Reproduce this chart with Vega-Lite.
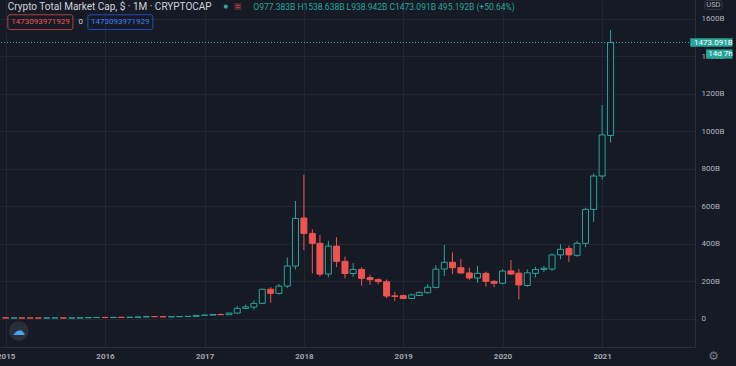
{
  "$schema": "https://vega.github.io/schema/vega-lite/v6.json",
  "width": 695,
  "height": 347,
  "autosize": {"type": "none"},
  "padding": {"left": 0, "top": 0, "right": 41, "bottom": 19},
  "background": "#161a25",
  "config": {
    "view": {"stroke": null},
    "font": "Roboto",
    "axis": {"gridColor": "#222633", "gridWidth": 1, "domainColor": "#2a2e39", "labelColor": "#b2b5be", "labelFont": "Roboto", "labelFontSize": 8, "ticks": false, "tickSize": 0, "title": null}
  },
  "data": {"values": [
    {"date": "2015-01-01", "open": 5.5, "high": 5.7, "low": 3.0, "close": 3.6},
    {"date": "2015-02-01", "open": 3.6, "high": 4.2, "low": 3.1, "close": 4.0},
    {"date": "2015-03-01", "open": 4.0, "high": 4.6, "low": 3.6, "close": 3.9},
    {"date": "2015-04-01", "open": 3.9, "high": 4.1, "low": 3.5, "close": 3.7},
    {"date": "2015-05-01", "open": 3.7, "high": 3.9, "low": 3.5, "close": 3.6},
    {"date": "2015-06-01", "open": 3.6, "high": 4.1, "low": 3.5, "close": 4.1},
    {"date": "2015-07-01", "open": 4.1, "high": 4.8, "low": 4.0, "close": 4.4},
    {"date": "2015-08-01", "open": 4.4, "high": 4.5, "low": 3.2, "close": 3.6},
    {"date": "2015-09-01", "open": 3.6, "high": 3.8, "low": 3.5, "close": 3.7},
    {"date": "2015-10-01", "open": 3.7, "high": 5.0, "low": 3.6, "close": 4.9},
    {"date": "2015-11-01", "open": 4.9, "high": 7.2, "low": 4.6, "close": 6.1},
    {"date": "2015-12-01", "open": 6.1, "high": 7.3, "low": 5.8, "close": 7.0},
    {"date": "2016-01-01", "open": 7.0, "high": 7.5, "low": 5.6, "close": 6.2},
    {"date": "2016-02-01", "open": 6.2, "high": 7.4, "low": 6.0, "close": 7.3},
    {"date": "2016-03-01", "open": 7.3, "high": 7.6, "low": 6.9, "close": 7.1},
    {"date": "2016-04-01", "open": 7.1, "high": 7.7, "low": 7.0, "close": 7.6},
    {"date": "2016-05-01", "open": 7.6, "high": 9.5, "low": 7.4, "close": 9.3},
    {"date": "2016-06-01", "open": 9.3, "high": 13.0, "low": 9.1, "close": 11.4},
    {"date": "2016-07-01", "open": 11.4, "high": 12.2, "low": 10.3, "close": 10.9},
    {"date": "2016-08-01", "open": 10.9, "high": 11.2, "low": 9.2, "close": 10.0},
    {"date": "2016-09-01", "open": 10.0, "high": 10.6, "low": 9.8, "close": 10.5},
    {"date": "2016-10-01", "open": 10.5, "high": 12.2, "low": 10.3, "close": 12.0},
    {"date": "2016-11-01", "open": 12.0, "high": 12.9, "low": 11.4, "close": 12.5},
    {"date": "2016-12-01", "open": 12.5, "high": 17.8, "low": 12.4, "close": 17.7},
    {"date": "2017-01-01", "open": 17.7, "high": 22, "low": 16, "close": 19.2},
    {"date": "2017-02-01", "open": 19.2, "high": 23, "low": 18.5, "close": 22.5},
    {"date": "2017-03-01", "open": 22.5, "high": 28, "low": 20, "close": 21.5},
    {"date": "2017-04-01", "open": 21.5, "high": 31, "low": 21, "close": 30},
    {"date": "2017-05-01", "open": 30, "high": 69, "low": 28, "close": 55},
    {"date": "2017-06-01", "open": 55, "high": 76, "low": 50, "close": 63},
    {"date": "2017-07-01", "open": 62, "high": 97, "low": 48, "close": 82},
    {"date": "2017-08-01", "open": 82, "high": 160, "low": 80, "close": 157},
    {"date": "2017-09-01", "open": 157, "high": 168, "low": 85, "close": 135},
    {"date": "2017-10-01", "open": 135, "high": 185, "low": 128, "close": 174},
    {"date": "2017-11-01", "open": 174, "high": 327, "low": 163, "close": 281},
    {"date": "2017-12-01", "open": 281, "high": 628, "low": 263, "close": 535},
    {"date": "2018-01-01", "open": 537, "high": 768, "low": 366, "close": 455},
    {"date": "2018-02-01", "open": 455, "high": 477, "low": 242, "close": 402},
    {"date": "2018-03-01", "open": 402, "high": 446, "low": 224, "close": 238},
    {"date": "2018-04-01", "open": 238, "high": 415, "low": 221, "close": 387},
    {"date": "2018-05-01", "open": 387, "high": 435, "low": 275, "close": 306},
    {"date": "2018-06-01", "open": 306, "high": 331, "low": 215, "close": 241},
    {"date": "2018-07-01", "open": 241, "high": 297, "low": 224, "close": 263},
    {"date": "2018-08-01", "open": 263, "high": 274, "low": 176, "close": 215},
    {"date": "2018-09-01", "open": 219, "high": 235, "low": 180, "close": 208},
    {"date": "2018-10-01", "open": 208, "high": 216, "low": 184, "close": 198},
    {"date": "2018-11-01", "open": 197, "high": 209, "low": 109, "close": 121},
    {"date": "2018-12-01", "open": 122, "high": 143, "low": 95, "close": 119},
    {"date": "2019-01-01", "open": 123, "high": 129, "low": 104, "close": 108},
    {"date": "2019-02-01", "open": 108, "high": 134, "low": 105, "close": 127},
    {"date": "2019-03-01", "open": 124, "high": 145, "low": 120, "close": 140},
    {"date": "2019-04-01", "open": 139, "high": 183, "low": 133, "close": 168},
    {"date": "2019-05-01", "open": 167, "high": 286, "low": 162, "close": 264},
    {"date": "2019-06-01", "open": 265, "high": 393, "low": 228, "close": 301},
    {"date": "2019-07-01", "open": 301, "high": 354, "low": 238, "close": 272},
    {"date": "2019-08-01", "open": 272, "high": 318, "low": 238, "close": 244},
    {"date": "2019-09-01", "open": 244, "high": 272, "low": 206, "close": 217},
    {"date": "2019-10-01", "open": 217, "high": 282, "low": 192, "close": 242},
    {"date": "2019-11-01", "open": 242, "high": 251, "low": 171, "close": 199},
    {"date": "2019-12-01", "open": 199, "high": 207, "low": 168, "close": 189},
    {"date": "2020-01-01", "open": 189, "high": 263, "low": 183, "close": 254},
    {"date": "2020-02-01", "open": 255, "high": 313, "low": 235, "close": 238},
    {"date": "2020-03-01", "open": 243, "high": 265, "low": 103, "close": 180},
    {"date": "2020-04-01", "open": 177, "high": 263, "low": 170, "close": 245},
    {"date": "2020-05-01", "open": 242, "high": 277, "low": 220, "close": 263},
    {"date": "2020-06-01", "open": 263, "high": 282, "low": 250, "close": 269},
    {"date": "2020-07-01", "open": 265, "high": 348, "low": 256, "close": 340},
    {"date": "2020-08-01", "open": 340, "high": 397, "low": 317, "close": 370},
    {"date": "2020-09-01", "open": 374, "high": 390, "low": 303, "close": 340},
    {"date": "2020-10-01", "open": 338, "high": 415, "low": 330, "close": 402},
    {"date": "2020-11-01", "open": 402, "high": 592, "low": 381, "close": 583},
    {"date": "2020-12-01", "open": 583, "high": 775, "low": 517, "close": 761},
    {"date": "2021-01-01", "open": 761, "high": 1140, "low": 743, "close": 980},
    {"date": "2021-02-01", "open": 977.383, "high": 1538.638, "low": 938.942, "close": 1473.091}
  ]},
  "layer": [
    {
      "mark": {"type": "rule", "strokeWidth": 1},
      "encoding": {
        "x": {
          "field": "date", "type": "temporal",
          "scale": {"type": "utc", "domain": [{"year": 2014, "month": 12, "date": 29, "hours": 12, "utc": true}, {"year": 2021, "month": 11, "date": 20, "utc": true}]},
          "axis": {
            "orient": "bottom", "format": "%Y", "formatType": "utc", "labelFlush": false, "labelOverlap": false, "labelBound": false,
            "labelPadding": 9, "labelBaseline": "middle", "labelFontWeight": "bold", "labelColor": "#a3a6af",
            "values": [
              {"year": 2015, "month": 1, "date": 1, "utc": true},
              {"year": 2016, "month": 1, "date": 1, "utc": true},
              {"year": 2017, "month": 1, "date": 1, "utc": true},
              {"year": 2018, "month": 1, "date": 1, "utc": true},
              {"year": 2019, "month": 1, "date": 1, "utc": true},
              {"year": 2020, "month": 1, "date": 1, "utc": true},
              {"year": 2021, "month": 1, "date": 1, "utc": true}
            ]
          }
        },
        "y": {
          "field": "low", "type": "quantitative",
          "scale": {"domain": [-150.9, 1699.7], "nice": false, "zero": false},
          "axis": {
            "orient": "right", "values": [0, 200, 400, 600, 800, 1000, 1200, 1400, 1600],
            "labelExpr": "datum.value == 0 ? '0' : datum.value + 'B'", "labelPadding": 6, "labelOverlap": false
          }
        },
        "y2": {"field": "high"},
        "color": {"condition": {"test": "datum.close >= datum.open", "value": "#26a69a"}, "value": "#ef5350"}
      }
    },
    {
      "mark": {"type": "bar", "size": 6, "strokeWidth": 1},
      "encoding": {
        "x": {"field": "date", "type": "temporal"},
        "y": {"field": "open", "type": "quantitative"},
        "y2": {"field": "close"},
        "fill": {"condition": {"test": "datum.close >= datum.open", "value": "#161a25"}, "value": "#ef5350"},
        "stroke": {"condition": {"test": "datum.close >= datum.open", "value": "#26a69a"}, "value": "#ef5350"}
      }
    },
    {
      "data": {"values": [{}]},
      "mark": {"type": "rule", "strokeDash": [1, 2], "color": "#26a69a", "strokeWidth": 1},
      "encoding": {"y": {"datum": 1473.091}}
    },
    {
      "data": {"values": [{}]},
      "mark": {"type": "rect", "color": "#26a69a"},
      "encoding": {
        "x": {"datum": {"year": 2021, "month": 11, "date": 21, "utc": true}, "type": "temporal"},
        "x2": {"datum": {"year": 2022, "month": 4, "date": 25, "utc": true}},
        "y": {"datum": 1496},
        "y2": {"datum": 1450}
      }
    },
    {
      "data": {"values": [{}]},
      "mark": {"type": "rect", "color": "#26a69a"},
      "encoding": {
        "x": {"datum": {"year": 2022, "month": 1, "date": 18, "utc": true}, "type": "temporal"},
        "x2": {"datum": {"year": 2022, "month": 4, "date": 25, "utc": true}},
        "y": {"datum": 1436},
        "y2": {"datum": 1387}
      }
    },
    {
      "data": {"values": [{}]},
      "mark": {"type": "text", "text": "1473.091B", "color": "#ffffff", "fontSize": 8, "align": "left", "baseline": "middle"},
      "encoding": {
        "x": {"datum": {"year": 2021, "month": 12, "date": 5, "utc": true}, "type": "temporal"},
        "y": {"datum": 1473}
      }
    },
    {
      "data": {"values": [{}]},
      "mark": {"type": "text", "text": "14d 7h", "color": "#ffffff", "fontSize": 8, "align": "left", "baseline": "middle"},
      "encoding": {
        "x": {"datum": {"year": 2022, "month": 1, "date": 26, "utc": true}, "type": "temporal"},
        "y": {"datum": 1411}
      }
    },
    {
      "data": {"values": [{}]},
      "mark": {"type": "rect", "fill": null, "stroke": "#363a45", "strokeWidth": 1, "cornerRadius": 2},
      "encoding": {
        "x": {"datum": {"year": 2022, "month": 1, "date": 13, "utc": true}, "type": "temporal"},
        "x2": {"datum": {"year": 2022, "month": 3, "date": 18, "utc": true}},
        "y": {"datum": 1697},
        "y2": {"datum": 1650}
      }
    },
    {
      "data": {"values": [{}]},
      "mark": {"type": "text", "text": "USD", "color": "#b2b5be", "fontSize": 7.5, "align": "center", "baseline": "middle"},
      "encoding": {
        "x": {"datum": {"year": 2022, "month": 2, "date": 14, "utc": true}, "type": "temporal"},
        "y": {"datum": 1673}
      }
    },
    {
      "data": {"values": [{}]},
      "mark": {"type": "text", "text": "Crypto Total Market Cap, $ · 1M · CRYPTOCAP", "color": "#d1d4dc", "fontSize": 10, "align": "left", "baseline": "middle"},
      "encoding": {
        "x": {"datum": {"year": 2015, "month": 1, "date": 9, "utc": true}, "type": "temporal"},
        "y": {"datum": 1665}
      }
    },
    {
      "data": {"values": [{}]},
      "mark": {"type": "point", "filled": true, "shape": "circle", "size": 18, "color": "#26a69a", "opacity": 1},
      "encoding": {
        "x": {"datum": {"year": 2017, "month": 3, "date": 20, "utc": true}, "type": "temporal"},
        "y": {"datum": 1665}
      }
    },
    {
      "data": {"values": [{}]},
      "mark": {"type": "point", "filled": true, "shape": "square", "size": 45, "color": "#ef5350", "opacity": 0.3},
      "encoding": {
        "x": {"datum": {"year": 2017, "month": 5, "date": 3, "utc": true}, "type": "temporal"},
        "y": {"datum": 1665}
      }
    },
    {
      "data": {"values": [{}]},
      "mark": {"type": "text", "text": "=", "color": "#ef5350", "fontSize": 8, "align": "center", "baseline": "middle"},
      "encoding": {
        "x": {"datum": {"year": 2017, "month": 5, "date": 3, "utc": true}, "type": "temporal"},
        "y": {"datum": 1665}
      }
    },
    {
      "data": {"values": [{}]},
      "mark": {"type": "text", "text": "O977.383B  H1538.638B  L938.942B  C1473.091B  495.192B  (+50.64%)", "color": "#26a69a", "fontSize": 8.5, "align": "left", "baseline": "middle"},
      "encoding": {
        "x": {"datum": {"year": 2017, "month": 6, "date": 29, "utc": true}, "type": "temporal"},
        "y": {"datum": 1665}
      }
    },
    {
      "data": {"values": [{}]},
      "mark": {"type": "rect", "fill": null, "stroke": "#ef5350", "strokeOpacity": 0.7, "strokeWidth": 1, "cornerRadius": 2},
      "encoding": {
        "x": {"datum": {"year": 2015, "month": 1, "date": 9, "utc": true}, "type": "temporal"},
        "x2": {"datum": {"year": 2015, "month": 9, "date": 5, "utc": true}},
        "y": {"datum": 1621},
        "y2": {"datum": 1542}
      }
    },
    {
      "data": {"values": [{}]},
      "mark": {"type": "text", "text": "1473093971929", "color": "#ef5350", "fontSize": 8, "align": "center", "baseline": "middle"},
      "encoding": {
        "x": {"datum": {"year": 2015, "month": 5, "date": 9, "utc": true}, "type": "temporal"},
        "y": {"datum": 1582}
      }
    },
    {
      "data": {"values": [{}]},
      "mark": {"type": "text", "text": "0", "color": "#d1d4dc", "fontSize": 8, "align": "center", "baseline": "middle"},
      "encoding": {
        "x": {"datum": {"year": 2015, "month": 10, "date": 4, "utc": true}, "type": "temporal"},
        "y": {"datum": 1582}
      }
    },
    {
      "data": {"values": [{}]},
      "mark": {"type": "rect", "fill": null, "stroke": "#2962ff", "strokeOpacity": 0.7, "strokeWidth": 1, "cornerRadius": 2},
      "encoding": {
        "x": {"datum": {"year": 2015, "month": 10, "date": 30, "utc": true}, "type": "temporal"},
        "x2": {"datum": {"year": 2016, "month": 6, "date": 25, "utc": true}},
        "y": {"datum": 1621},
        "y2": {"datum": 1542}
      }
    },
    {
      "data": {"values": [{}]},
      "mark": {"type": "text", "text": "1473093971929", "color": "#3d7eff", "fontSize": 8, "align": "center", "baseline": "middle"},
      "encoding": {
        "x": {"datum": {"year": 2016, "month": 2, "date": 26, "utc": true}, "type": "temporal"},
        "y": {"datum": 1582}
      }
    },
    {
      "data": {"values": [{}]},
      "mark": {"type": "point", "filled": true, "shape": "circle", "size": 380, "color": "#2a2e39", "opacity": 1},
      "encoding": {
        "x": {"datum": {"year": 2015, "month": 2, "date": 18, "utc": true}, "type": "temporal"},
        "y": {"datum": -65.6}
      }
    },
    {
      "data": {"values": [{}]},
      "mark": {"type": "text", "text": "☁", "color": "#42a5f5", "fontSize": 13, "align": "center", "baseline": "middle", "font": "DejaVu Sans"},
      "encoding": {
        "x": {"datum": {"year": 2015, "month": 2, "date": 18, "utc": true}, "type": "temporal"},
        "y": {"datum": -65.6}
      }
    },
    {
      "data": {"values": [{}]},
      "mark": {"type": "text", "text": "⚙", "color": "#787b86", "fontSize": 12, "align": "center", "baseline": "middle", "font": "DejaVu Sans"},
      "encoding": {
        "x": {"datum": {"year": 2022, "month": 2, "date": 15, "utc": true}, "type": "temporal"},
        "y": {"datum": -199}
      }
    }
  ]
}
